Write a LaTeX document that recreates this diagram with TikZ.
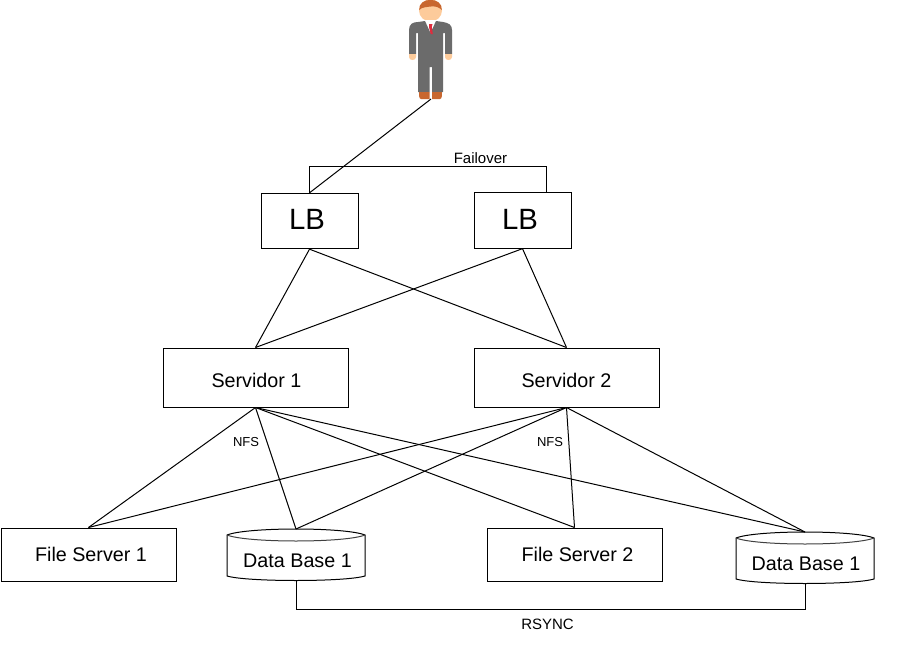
\documentclass[tikz,border=0pt]{standalone}
\usepackage{fontspec}
\setmainfont{Liberation Sans}
\tikzset{
  x=0.75pt,y=-0.75pt,
  wire/.style={draw=black,line width=0.75pt,line join=miter},
  boxnode/.style={draw=black,line width=0.75pt,rectangle,inner sep=0pt},
  srv/.style={boxnode,minimum width=138.75pt,minimum height=44.25pt},
  lbx/.style={boxnode,minimum width=72.75pt,minimum height=41.5pt},
  fsx/.style={boxnode,minimum width=131.25pt,minimum height=39.75pt},
  bigtext/.style={inner sep=0pt,font=\fontsize{22pt}{24pt}\selectfont},
  midtext/.style={inner sep=0pt,font=\fontsize{14.8pt}{16pt}\selectfont},
  lab/.style={inner sep=0pt,font=\fontsize{11.25pt}{13pt}\selectfont},
  nfs/.style={inner sep=0pt,font=\fontsize{9.75pt}{12pt}\selectfont},
  dbshape/.style={draw=black,line width=0.75pt,fill=white},
  suit/.style={fill=suitgrey,draw=none},
}
\definecolor{suitgrey}{HTML}{6B6B6B}
\definecolor{skintone}{HTML}{FDCB9B}
\definecolor{hair}{HTML}{C8672F}
\definecolor{tie}{HTML}{E02B3C}
\newcommand{\dbdraw}[4]{% left, right, top, bottom
  \path[dbshape] (#1,#3+6) -- (#1,#4-5) .. controls (#1+20,#4+1) and (#2-20,#4+1) .. (#2,#4-5) -- (#2,#3+6) .. controls (#2-20,#3-2) and (#1+20,#3-2) .. (#1,#3+6) -- cycle;
  \draw[line width=0.75pt,draw=black!75] (#1,#3+6) .. controls (#1+20,#3+14) and (#2-20,#3+14) .. (#2,#3+6);
}
\begin{document}
\begin{tikzpicture}
\useasboundingbox (0,0) rectangle (900,653);
% person
\fill[skintone] (430.5,10.5) circle[x radius=11.5,y radius=11];
\fill[hair] (419.2,10) .. controls (418,-3.5) and (443,-3.5) .. (441.8,10) .. controls (439,7) and (435,6) .. (431,6.5) .. controls (427,7) and (422,7) .. (419.2,10) -- cycle;
\fill[white] (425,20) -- (436,20) -- (431,32) -- cycle;
\fill[suit] (409,30) .. controls (409,24) and (413,22) .. (418,22) -- (425,21) -- (430.5,33) -- (436,21) -- (443,22) .. controls (449,23) and (452,25) .. (452,30) -- (452,54) -- (445,54) -- (445,33) -- (443,33) -- (443,92) -- (432,92) -- (432,67) -- (429.5,67) -- (429.5,92) -- (418,92) -- (418,33) -- (416,33) -- (416,54) -- (409,54) -- cycle;
\fill[tie] (429,24) -- (432.5,24) -- (431.8,27) -- (432.8,34) -- (430.7,34) -- (429,27) -- cycle;
\fill[skintone] (409,54) -- (416,54) -- (416,57) .. controls (416,61) and (409,61) .. (409,57) -- cycle;
\fill[skintone] (445,54) -- (452,54) -- (452,57) .. controls (452,61) and (445,61) .. (445,57) -- cycle;
\fill[hair] (419,92) -- (429.5,92) -- (429.5,99) -- (421,99) .. controls (419,99) and (419,95) .. (419,92) -- cycle;
\fill[hair] (432,92) -- (442,92) .. controls (442,95) and (442,99) .. (440,99) -- (432,99) -- cycle;
\coordinate (person) at (431,99);
% boxes
\node[lbx] (lb1) at (309.5,221) {};
\node[lbx] (lb2) at (522.5,220.5) {};
\node[srv] (s1) at (255.5,377.5) {};
\node[srv] (s2) at (566.5,377.5) {};
\node[fsx] (f1) at (88.5,554.5) {};
\node[fsx] (f2) at (574.5,554.5) {};
\node[bigtext] (lb1t) at (307,219) {LB};
\node[bigtext] (lb2t) at (520,219) {LB};
\node[midtext] (s1t) at (256.5,380) {Servidor 1};
\node[midtext] (s2t) at (566.5,380) {Servidor 2};
\node[midtext] (f1t) at (91,554) {File Server 1};
\node[midtext] (f2t) at (577.5,554) {File Server 2};
% databases
\dbdraw{227}{365}{529}{581}
\dbdraw{736}{874}{532}{584}
\node[midtext] (d1) at (297.5,561) {Data Base 1};
\node[midtext] (d2) at (806,564) {Data Base 1};
\coordinate (d1t) at (296,529);
\coordinate (d1b) at (296,581);
\coordinate (d2t) at (805,532);
\coordinate (d2b) at (805,584);
% connectors
\draw[wire] (person) -- (lb1.north);
\draw[wire] (lb1.north) -- ++(0,-26) -| (546,193);
\draw[wire] (lb1.south) -- (s1.north);
\draw[wire] (lb1.south) -- (s2.north);
\draw[wire] (lb2.south) -- (s1.north);
\draw[wire] (lb2.south) -- (s2.north);
\foreach \a in {s1,s2}{
  \draw[wire] (\a.south) -- (f1.north);
  \draw[wire] (\a.south) -- (d1t);
  \draw[wire] (\a.south) -- (f2.north);
  \draw[wire] (\a.south) -- (d2t);
}
\draw[wire] (d1b) |- (805,609) -- (d2b);
% labels
\node[lab] at (480.5,158) {Failover};
\node[nfs] at (246,442) {NFS};
\node[nfs] at (550,442) {NFS};
\node[lab] at (547.5,624) {RSYNC};
\end{tikzpicture}
\end{document}
